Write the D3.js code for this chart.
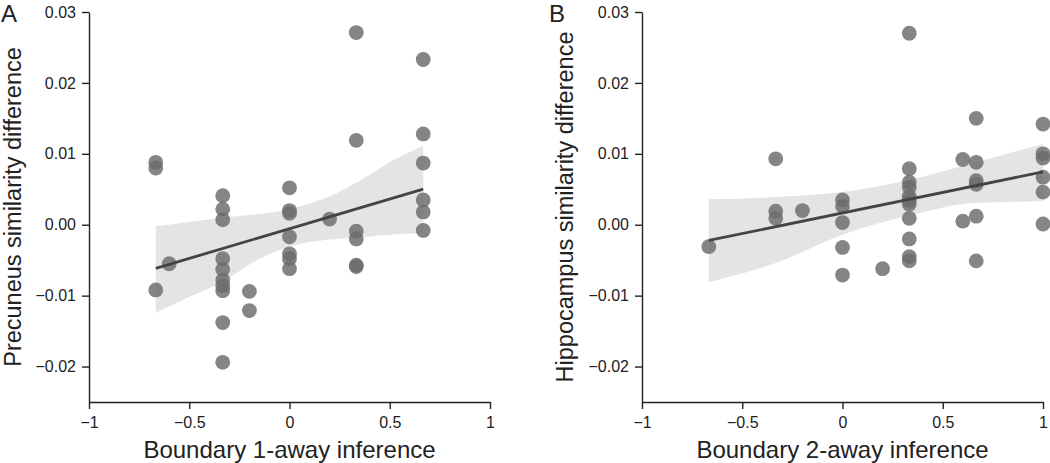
<!DOCTYPE html>
<html>
<head>
<meta charset="utf-8">
<script src="https://cdn.jsdelivr.net/npm/d3@7"></script>
<style>
  html, body { margin: 0; padding: 0; background: #fff; }
  svg { display: block; }
  text { font-family: "Liberation Sans", Arial, sans-serif; fill: #222; }
</style>
</head>
<body>
<svg id="chart" width="1050" height="463"></svg>
<script>
// ---- Data ----
const xTicks = [-1, -0.5, 0, 0.5, 1];
const yTicks = [-0.02, -0.01, 0.00, 0.01, 0.02, 0.03];

// Panel A: Boundary 1-away inference vs Precuneus similarity difference
const aX = [-0.667, -0.667, -0.667, -0.6,
  -0.333, -0.333, -0.333, -0.333, -0.333, -0.333, -0.333, -0.333, -0.333, -0.333,
  -0.2, -0.2,
  0, 0, 0, 0, 0, 0, 0,
  0.2,
  0.333, 0.333, 0.333, 0.333, 0.333, 0.333,
  0.667, 0.667, 0.667, 0.667, 0.667, 0.667];
const aY = [0.0088, 0.0080, -0.0092, -0.0055,
  0.0041, 0.0022, 0.0007, -0.0048, -0.0063, -0.0078, -0.0086, -0.0093, -0.0138, -0.0194,
  -0.0094, -0.0121,
  0.0052, 0.0020, 0.0016, -0.0017, -0.0041, -0.0048, -0.0062,
  0.0008,
  0.0271, 0.0119, -0.0009, -0.0020, -0.0057, -0.0059,
  0.0233, 0.0128, 0.0087, 0.0035, 0.0018, -0.0008];
const aFitX = [-0.667, 0.667];
const aFitY = [-0.00615, 0.00503];
const aBandX = [-0.667, -0.5, -0.333, -0.15, 0, 0.2, 0.35, 0.5, 0.667];
const aBandHi = [-0.0002, 0.0004, 0.0010, 0.0015, 0.0022, 0.0040, 0.0062, 0.0088, 0.0111];
const aBandLo = [-0.0124, -0.0102, -0.0080, -0.0048, -0.0031, -0.0021, -0.0018, -0.0014, -0.0012];

// Panel B: Boundary 2-away inference vs Hippocampus similarity difference
const bX = [-0.667,
  -0.333, -0.333, -0.333,
  -0.2,
  0, 0, 0, 0, 0,
  0.2,
  0.333, 0.333, 0.333, 0.333, 0.333, 0.333, 0.333, 0.333, 0.333, 0.333, 0.333,
  0.6, 0.6,
  0.667, 0.667, 0.667, 0.667, 0.667, 0.667,
  1, 1, 1, 1, 1, 1];
const bY = [-0.0031,
  0.0093, 0.0019, 0.0009,
  0.0020,
  0.0035, 0.0026, 0.0003, -0.0032, -0.0071,
  -0.0062,
  0.0270, 0.0079, 0.0060, 0.0053, 0.0040, 0.0034, 0.0029, 0.0009, -0.0020, -0.0045, -0.0051,
  0.0092, 0.0005,
  0.0150, 0.0088, 0.0062, 0.0057, 0.0012, -0.0051,
  0.0142, 0.0100, 0.0094, 0.0067, 0.0046, 0.0001];
const bFitX = [-0.667, 1];
const bFitY = [-0.00221, 0.00746];
const bBandX = [-0.667, -0.333, 0, 0.333, 0.667, 1];
const bBandHi = [0.0036, 0.0039, 0.0046, 0.0063, 0.0088, 0.0114];
const bBandLo = [-0.0081, -0.0054, -0.0014, 0.0013, 0.0031, 0.0033];

// ---- Drawing ----
const svg = d3.select("#chart");

function panel(opt) {
  const x = d3.scaleLinear().domain([-1, 1]).range([opt.left, opt.left + 401]);
  const y = d3.scaleLinear().domain([-0.025, 0.03]).range([402, 12]);
  const g = svg.append("g");

  // CI band
  const band = opt.bandX.map((v, i) => ({x: v, lo: opt.bandLo[i], hi: opt.bandHi[i]}));
  g.append("path")
    .datum(band)
    .attr("fill", "#e4e4e4")
    .attr("d", d3.area().curve(d3.curveMonotoneX)
      .x(d => x(d.x)).y0(d => y(d.lo)).y1(d => y(d.hi)));

  // points
  const pts = opt.xs.map((v, i) => ({x: v, y: opt.ys[i]}));
  g.append("g").selectAll("circle").data(pts).join("circle")
    .attr("cx", d => x(d.x)).attr("cy", d => y(d.y))
    .attr("r", 7.4)
    .attr("fill", "#6c6c6c").attr("fill-opacity", 0.83);

  // fit line
  const fit = opt.fitX.map((v, i) => ({x: v, y: opt.fitY[i]}));
  g.append("path").datum(fit)
    .attr("fill", "none").attr("stroke", "#444").attr("stroke-width", 2.8)
    .attr("d", d3.line().x(d => x(d.x)).y(d => y(d.y)));

  // axes
  const ya = g.append("g").attr("transform", `translate(${opt.left},0)`)
    .call(d3.axisLeft(y).tickValues(yTicks).tickFormat(d3.format(".2f"))
      .tickSize(7).tickSizeOuter(0).tickPadding(6));
  const xa = g.append("g").attr("transform", "translate(0,402)")
    .call(d3.axisBottom(x).tickValues(xTicks).tickFormat(d3.format("")).tickSize(7)
      .tickSizeOuter(0).tickPadding(8));
  [ya, xa].forEach(a => {
    a.select(".domain").attr("stroke", "#222").attr("stroke-width", 1.4);
    a.selectAll(".tick line").attr("stroke", "#222").attr("stroke-width", 1.4);
    a.selectAll(".tick text").style("font-family", '"Liberation Sans", Arial, sans-serif')
      .style("font-size", "16px").attr("fill", "#333");
  });

  // titles
  g.append("text").attr("x", x(0)).attr("y", 458).attr("text-anchor", "middle")
    .style("font-size", "24px").attr("fill", "#333").text(opt.xTitle);
  g.append("text").attr("transform", `translate(${opt.yTitleX},207) rotate(-90)`)
    .attr("text-anchor", "middle").style("font-size", "23.5px").attr("fill", "#333")
    .text(opt.yTitle);
  g.append("text").attr("x", opt.letterX).attr("y", 22)
    .style("font-size", "24px").attr("fill", "#111").text(opt.letter);
}

panel({left: 89, xs: aX, ys: aY, fitX: aFitX, fitY: aFitY,
  bandX: aBandX, bandHi: aBandHi, bandLo: aBandLo,
  xTitle: "Boundary 1-away inference", yTitle: "Precuneus similarity difference",
  yTitleX: 20.5, letter: "A", letterX: 1});
panel({left: 642, xs: bX, ys: bY, fitX: bFitX, fitY: bFitY,
  bandX: bBandX, bandHi: bBandHi, bandLo: bBandLo,
  xTitle: "Boundary 2-away inference", yTitle: "Hippocampus similarity difference",
  yTitleX: 573, letter: "B", letterX: 549});
</script>
</body>
</html>
